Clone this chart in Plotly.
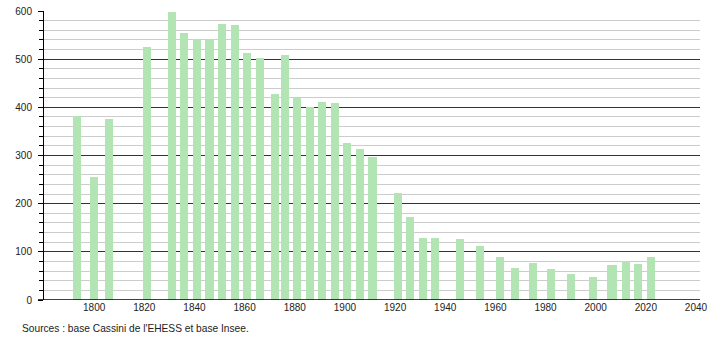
import plotly.graph_objects as go

years = [1793, 1800, 1806, 1821, 1831, 1836, 1841, 1846, 1851, 1856, 1861, 1866,
         1872, 1876, 1881, 1886, 1891, 1896, 1901, 1906, 1911, 1921, 1926, 1931,
         1936, 1946, 1954, 1962, 1968, 1975, 1982, 1990, 1999, 2006, 2007, 2012,
         2017, 2022]
population = [382, 256, 376, 525, 597, 554, 541, 541, 573, 571, 513, 503,
              428, 509, 420, 400, 411, 409, 326, 314, 297, 223, 173, 129,
              129, 126, 112, 89, 66, 77, 64, 54, 48, 72, 72, 81,
              75, 89]
x_ticks = [1800, 1820, 1840, 1860, 1880, 1900, 1920, 1940, 1960, 1980, 2000, 2020, 2040]
source_text = "Sources : base Cassini de l'EHESS et base Insee."

W, H = 710, 340
L, R, T, B = 44, 10, 11, 40

fig = go.Figure()
fig.add_trace(go.Bar(
    x=years, y=population, width=3.2,
    marker=dict(color="#b3e4b3", line=dict(width=0)),
    hoverinfo="x+y",
))

fig.update_layout(
    width=W, height=H,
    margin=dict(l=L, r=R, t=T, b=B, autoexpand=False),
    paper_bgcolor="white", plot_bgcolor="white",
    showlegend=False,
    font=dict(family="Liberation Sans, Arial, sans-serif", size=10, color="#222"),
    bargap=0,
    xaxis=dict(
        range=[1780, 2041.6],
        tickvals=x_ticks,
        ticktext=[str(v) for v in x_ticks],
        showgrid=False, zeroline=False,
        showline=False, ticks="",
        automargin=False,
        tickfont=dict(size=10, color="#222"),
    ),
    yaxis=dict(
        range=[0, 600],
        tickvals=[0, 100, 200, 300, 400, 500, 600],
        showgrid=True, gridcolor="#333333", gridwidth=1,
        zeroline=False,
        showline=True, linecolor="#000000", linewidth=1,
        ticks="outside", ticklen=5, tickcolor="#000000",
        ticklabelstandoff=4,
        automargin=False,
        tickfont=dict(size=10, color="#222"),
        minor=dict(dtick=20, showgrid=True, gridcolor="#cccccc", gridwidth=1,
                   ticks="outside", ticklen=4, tickcolor="#000000"),
    ),
    shapes=[dict(type="line", xref="paper", yref="y", x0=-6 / (W - L - R), x1=1,
                 y0=0, y1=0, line=dict(color="#000000", width=1.5))],
    annotations=[dict(
        text=source_text, xref="paper", yref="paper",
        x=-24 / (W - L - R), y=-(328 - (H - B)) / (H - T - B),
        xanchor="left", yanchor="middle", showarrow=False,
        font=dict(size=10.2, color="#222"),
    )],
)

fig.write_html("out.html")
